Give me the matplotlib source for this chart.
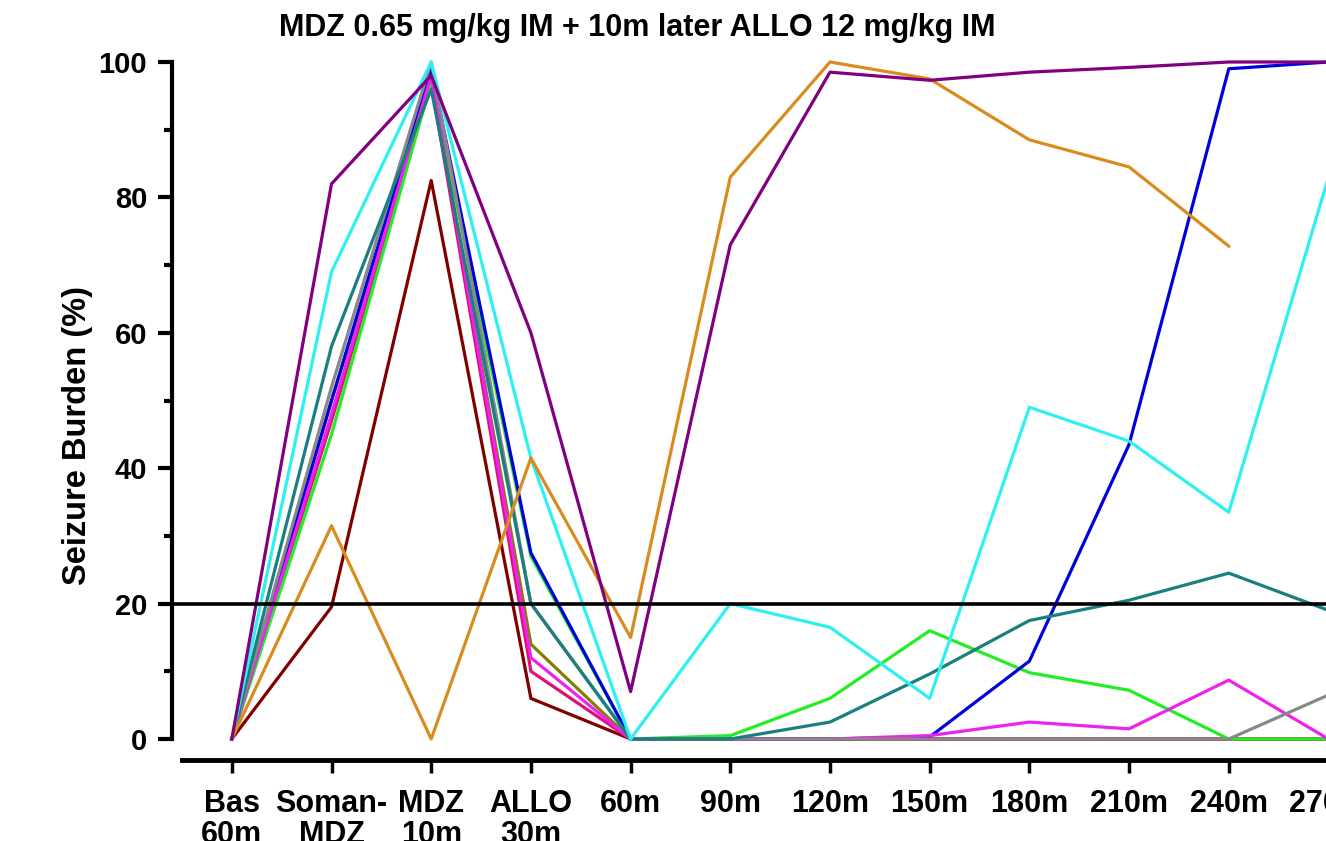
import numpy as np
import matplotlib
matplotlib.use("Agg")
import matplotlib.pyplot as plt
from matplotlib.ticker import MultipleLocator

plt.rcParams['font.family'] = ['Liberation Sans', 'DejaVu Sans']
plt.rcParams['font.weight'] = 'bold'

nan = np.nan
timepoints = ['Bas\n60m', 'Soman-\nMDZ', 'MDZ\n10m', 'ALLO\n30m', '60m', '90m',
              '120m', '150m', '180m', '210m', '240m', '270m']

# seizure burden (%) per animal
maroon = [0, 19.5, 82.5, 6, 0, 0, 0, 0, 0, 0, 0, 0]
olive = [0, 50, 97, 14, 0, 0, 0, 0, 0, 0, 0, 0]
crimson = [0, 47, 97, 10, 0, 0, 0, 0, 0, 0, 0, 0]
green = [0, 45, 97, 27, 0, 0.5, 6, 16, 9.8, 7.2, 0, 0]
blue = [0, 50, 99, 27.5, 0, 0, 0, 0.3, 11.5, 43.5, 99, 100]
magenta = [0, 48, 98, 12, 0, 0, 0, 0.5, 2.5, 1.5, 8.7, 0]
gray = [0, 52, 100, 20, 0, 0, 0, 0, 0, 0, 0, 6.5]
teal = [0, 58, 96, 20, 0, 0, 2.5, 9.6, 17.5, 20.5, 24.5, 19]
cyan = [0, 69, 100, 41.5, 0, 20, 16.5, 6, 49, 44, 33.5, 83]
orange = [0, 31.5, 0, 41.5, 15, 83, 100, 97.5, 88.5, 84.5, 72.8, nan]
purple = [0, 82, 98, 60, 7, 73, 98.5, 97.3, 98.5, 99.2, 100, 100]

threshold = 20

series = [(maroon, '#800000'), (olive, '#808000'), (crimson, '#DD1177'),
          (green, '#22EE22'), (blue, '#0000DD'), (magenta, '#EE22EE'),
          (gray, '#888888'), (teal, '#1A7F7F'), (cyan, '#2EF0F0'),
          (orange, '#D98C1E'), (purple, '#800080')]

fig = plt.figure(figsize=(13.26, 8.41), dpi=100)
# axes run past the right edge of the figure, like the cropped original
ax = fig.add_axes([172 / 1326, 102 / 841, 1306 / 1326, 677 / 841])

x = np.arange(len(timepoints))
for vals, col in series:
    ax.plot(x, vals, color=col, lw=2.3, clip_on=False)

ax.axhline(threshold, color='black', lw=2.6, zorder=5)

ax.set_xlim(-0.6, 12.5)
ax.set_ylim(0, 100)

ax.spines['top'].set_visible(False)
ax.spines['right'].set_visible(False)
ax.spines['left'].set_linewidth(3)
ax.spines['bottom'].set_linewidth(3.5)
ax.spines['bottom'].set_position(('outward', 15))
ax.spines['bottom'].set_bounds(-0.5, 12.5)

ax.set_xticks(x)
ax.set_xticklabels(timepoints, fontsize=22, fontweight='bold', linespacing=1.05)
ax.yaxis.set_major_locator(MultipleLocator(20))
ax.yaxis.set_minor_locator(MultipleLocator(10))
ax.tick_params(axis='y', which='major', length=10, width=3, labelsize=21, pad=8)
ax.tick_params(axis='y', which='minor', length=6, width=3)
ax.tick_params(axis='x', length=9, width=2.5, pad=12)
for t in ax.get_yticklabels():
    t.set_fontweight('bold')

ax.set_ylabel('Seizure Burden (%)', fontsize=23.5, fontweight='bold')
ax.yaxis.set_label_coords(-0.0605, 0.449)
fig.text(637 / 1326, 1 - 28 / 841, 'MDZ 0.65 mg/kg IM + 10m later ALLO 12 mg/kg IM',
         ha='center', va='center', fontsize=22, fontweight='bold')

fig.savefig('out.png', dpi=100)
